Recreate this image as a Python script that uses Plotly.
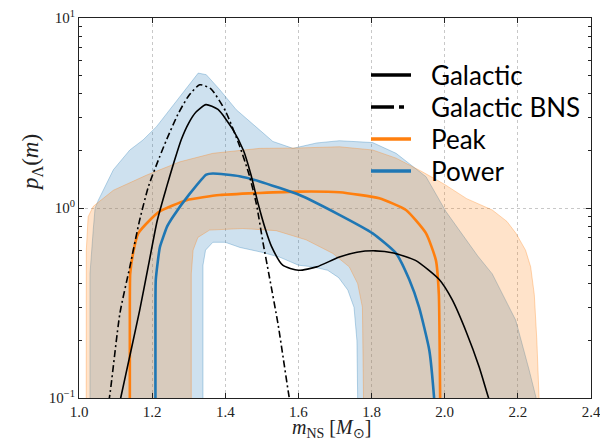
import plotly.graph_objects as go

# ---------------- data ----------------
# Galactic (solid black)
gal_x = [1.100, 1.114, 1.140, 1.166, 1.190, 1.214, 1.240, 1.260, 1.280, 1.300, 1.320, 1.347,
         1.380, 1.420, 1.450, 1.470, 1.490, 1.510, 1.526, 1.557, 1.600, 1.650, 1.710, 1.760,
         1.810, 1.860, 1.920, 1.985, 2.020, 2.060, 2.094, 2.120, 2.130]
gal_y = [0.075, 0.100, 0.170, 0.290, 0.500, 0.860, 1.300, 1.750, 2.300, 2.800, 3.200, 3.500,
         3.300, 2.600, 2.000, 1.500, 1.050, 0.770, 0.630, 0.500, 0.470, 0.490, 0.550, 0.585,
         0.595, 0.580, 0.530, 0.420, 0.330, 0.220, 0.146, 0.100, 0.088]

# Galactic BNS (dash-dot black)
bns_x = [1.072, 1.083, 1.112, 1.140, 1.165, 1.190, 1.220, 1.240, 1.270, 1.300, 1.330, 1.360,
         1.400, 1.440, 1.465, 1.485, 1.503, 1.520, 1.545, 1.575, 1.585]
bns_y = [0.080, 0.100, 0.280, 0.500, 0.850, 1.300, 1.850, 2.300, 3.100, 3.900, 4.450, 4.250,
         3.250, 2.100, 1.500, 1.050, 0.660, 0.440, 0.240, 0.100, 0.080]

# Peak (orange) median
peak_x = [1.139, 1.139, 1.140, 1.148, 1.162, 1.194, 1.221, 1.294, 1.385, 1.494, 1.603, 1.712,
          1.821, 1.894, 1.949, 1.976, 1.984, 1.986, 1.988]
peak_y = [0.080, 0.300, 0.450, 0.580, 0.735, 0.865, 0.960, 1.100, 1.170, 1.200, 1.220, 1.210,
          1.125, 0.976, 0.735, 0.530, 0.350, 0.200, 0.080]

# Power (blue) median
pow_x = [1.209, 1.209, 1.210, 1.221, 1.230, 1.241, 1.257, 1.303, 1.348, 1.366, 1.439, 1.494,
         1.603, 1.712, 1.803, 1.867, 1.903, 1.930, 1.958, 1.971, 1.974]
pow_y = [0.080, 0.250, 0.420, 0.620, 0.700, 0.800, 0.900, 1.190, 1.500, 1.520, 1.470, 1.380,
         1.170, 0.920, 0.735, 0.577, 0.420, 0.300, 0.178, 0.100, 0.080]

# Peak band (orange) : upper edge and inner (lower) edge
peak_hi_x = [1.019, 1.019, 1.020, 1.025, 1.039, 1.094, 1.185, 1.276, 1.366, 1.494, 1.600, 1.712,
             1.803, 1.867, 1.939, 2.000, 2.060, 2.130, 2.170, 2.195, 2.221, 2.235, 2.245, 2.252,
             2.258, 2.260]
peak_hi_y = [0.001, 0.100, 0.600, 0.900, 1.020, 1.240, 1.490, 1.750, 1.940, 2.060, 2.070, 2.100,
             2.020, 1.830, 1.550, 1.330, 1.120, 0.976, 0.850, 0.735, 0.600, 0.490, 0.350, 0.200,
             0.100, 0.001]
peak_lo_x = [1.307, 1.307, 1.307, 1.312, 1.325, 1.357, 1.448, 1.539, 1.621, 1.694, 1.739, 1.762,
             1.775, 1.778, 1.778]
peak_lo_y = [0.001, 0.100, 0.450, 0.600, 0.700, 0.765, 0.780, 0.760, 0.680, 0.577, 0.490, 0.400,
             0.300, 0.100, 0.001]

# Power band (blue) : upper edge and inner (lower) edge
pow_hi_x = [1.030, 1.030, 1.030, 1.039, 1.044, 1.053, 1.094, 1.139, 1.175, 1.212, 1.248, 1.276,
            1.303, 1.326, 1.348, 1.385, 1.430, 1.494, 1.530, 1.585, 1.650, 1.712, 1.803, 1.867,
            1.912, 1.949, 2.003, 2.050, 2.090, 2.130, 2.194, 2.231, 2.250, 2.252]
pow_hi_y = [0.001, 0.100, 0.450, 0.770, 1.000, 1.100, 1.590, 2.020, 2.280, 2.680, 3.290, 3.860,
            4.550, 5.130, 5.030, 4.190, 3.290, 2.580, 2.240, 2.060, 2.200, 2.260, 2.210, 1.940,
            1.650, 1.460, 0.960, 0.720, 0.560, 0.450, 0.257, 0.140, 0.100, 0.001]
pow_lo_x = [1.339, 1.339, 1.339, 1.346, 1.366, 1.400, 1.440, 1.500, 1.550, 1.600, 1.640, 1.680,
            1.710, 1.735, 1.752, 1.760, 1.762, 1.762]
pow_lo_y = [0.001, 0.100, 0.500, 0.600, 0.660, 0.660, 0.620, 0.585, 0.550, 0.500, 0.490, 0.470,
            0.430, 0.370, 0.300, 0.200, 0.100, 0.001]

x_ticks = [1.0, 1.2, 1.4, 1.6, 1.8, 2.0, 2.2, 2.4]
y_ticks = [0.1, 1, 10]
y_ticktext = ["10<sup>−1</sup>", "10<sup>0</sup>", "10<sup>1</sup>"]
y_minor = [0.2, 0.3, 0.4, 0.5, 0.6, 0.7, 0.8, 0.9, 2, 3, 4, 5, 6, 7, 8, 9]

names = ["Galactic", "Galactic BNS", "Peak", "Power"]
x_title = "<i>m</i><sub>NS</sub> [<i>M</i><sub>⊙</sub>]"
y_title = "<i>p</i><sub>Λ</sub>(<i>m</i>)"

# ---------------- styles / layout ----------------
W, H = 600, 440
ML, MR, MT, MB = 79, 9, 18, 42
PW, PH = W - ML - MR, H - MT - MB
BLUE = "#1f77b4"
ORANGE = "#ff7f0e"
SERIF = "Liberation Serif"


def px2paper(px, py):
    """window pixel -> paper coordinates"""
    return (px - ML) / PW, (H - MB - py) / PH


fig = go.Figure()

# bands: polygon = upper edge left->right, then inner edge right->left
fig.add_trace(go.Scatter(
    x=pow_hi_x + pow_lo_x[::-1], y=pow_hi_y + pow_lo_y[::-1],
    fill="toself", fillcolor="rgba(31,119,180,0.22)",
    line=dict(color="rgba(31,119,180,0.30)", width=1),
    mode="lines", showlegend=False, hoverinfo="skip"))
fig.add_trace(go.Scatter(
    x=peak_hi_x + peak_lo_x[::-1], y=peak_hi_y + peak_lo_y[::-1],
    fill="toself", fillcolor="rgba(255,127,14,0.22)",
    line=dict(color="rgba(255,127,14,0.30)", width=1),
    mode="lines", showlegend=False, hoverinfo="skip"))

fig.add_trace(go.Scatter(x=peak_x, y=peak_y, mode="lines", name=names[2],
                         line=dict(color=ORANGE, width=2.6, shape="spline", smoothing=0.5),
                         showlegend=False))
fig.add_trace(go.Scatter(x=pow_x, y=pow_y, mode="lines", name=names[3],
                         line=dict(color=BLUE, width=2.6, shape="spline", smoothing=0.5),
                         showlegend=False))
fig.add_trace(go.Scatter(x=gal_x, y=gal_y, mode="lines", name=names[0],
                         line=dict(color="black", width=1.6, shape="spline", smoothing=0.6),
                         showlegend=False))
fig.add_trace(go.Scatter(x=bns_x, y=bns_y, mode="lines", name=names[1],
                         line=dict(color="black", width=1.6, dash="7px,3px,2px,3px",
                                   shape="spline", smoothing=0.6),
                         showlegend=False))

# legend drawn by hand (handles + labels) to match the reference layout
leg_styles = [dict(color="black", width=3.5),
              dict(color="black", width=3.5, dash="23px,5px,5px,20px"),
              dict(color=ORANGE, width=3.5),
              dict(color=BLUE, width=3.5)]
leg_rows_px = [75, 107, 139, 171]
for nm, st, py in zip(names, leg_styles, leg_rows_px):
    x0, yy = px2paper(371, py)
    x1, _ = px2paper(411, py)
    fig.add_shape(type="line", xref="paper", yref="paper", x0=x0, x1=x1, y0=yy, y1=yy,
                  line=st, layer="above")
    tx, _ = px2paper(429, py)
    fig.add_annotation(text=nm, xref="paper", yref="paper", x=tx, y=yy,
                       xanchor="left", yanchor="middle", showarrow=False,
                       font=dict(family="Lato", size=26, color="black"))

# axis titles
ax_, ay_ = px2paper(331, 429)
fig.add_annotation(text=x_title, xref="paper", yref="paper", x=ax_, y=ay_,
                   xanchor="center", yanchor="middle", showarrow=False,
                   font=dict(family=SERIF, size=20, color="#222222"))
bx_, by_ = px2paper(32, 163)
fig.add_annotation(text=y_title, xref="paper", yref="paper", x=bx_, y=by_,
                   xanchor="center", yanchor="middle", showarrow=False, textangle=-90,
                   font=dict(family=SERIF, size=23, color="#222222"))

axis_common = dict(showline=True, linecolor="#222222", linewidth=1, mirror="ticks",
                   ticks="inside", tickcolor="#222222", ticklen=5, automargin=False,
                   ticklabeloverflow="allow",
                   showgrid=True, gridcolor="#c8c8c8", griddash="dot", gridwidth=1,
                   zeroline=False,
                   tickfont=dict(family=SERIF, size=15, color="#222222"))

fig.update_xaxes(range=[1.0, 2.4], tickvals=x_ticks, ticktext=[f"{v:.1f}" for v in x_ticks],
                 **axis_common)
fig.update_yaxes(type="log", range=[-1, 1], tickvals=y_ticks, ticktext=y_ticktext,
                 minor=dict(tickvals=y_minor, ticks="inside", ticklen=3, tickcolor="#222222",
                            showgrid=False),
                 **axis_common)

fig.update_layout(
    width=W, height=H,
    margin=dict(l=ML, r=MR, t=MT, b=MB),
    paper_bgcolor="white", plot_bgcolor="white",
    showlegend=False,
)

# remove the default page margin so the 600x440 figure fills the window exactly
fig.write_html("out.html", config={"displayModeBar": False},
               post_script="document.body.style.margin='0';"
                           "document.body.style.overflow='hidden';")
